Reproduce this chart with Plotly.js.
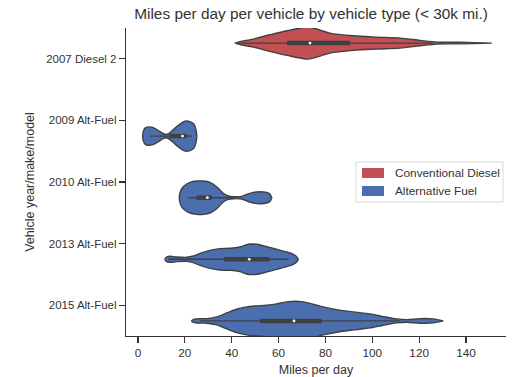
<!DOCTYPE html>
<html>
<head>
<meta charset="utf-8">
<script src="https://cdn.plot.ly/plotly-3.0.1.min.js"></script>
<style>html,body{margin:0;padding:0;background:#fff;}#chart{width:512px;height:377px;}</style>
</head>
<body>
<div id="chart"></div>
<script>
// ---- data ----
const categories = ['2007 Diesel 2', '2009 Alt-Fuel', '2010 Alt-Fuel', '2013 Alt-Fuel', '2015 Alt-Fuel'];
const fuelTypes = ['Conventional Diesel', 'Alternative Fuel', 'Alternative Fuel', 'Alternative Fuel', 'Alternative Fuel'];
const legendLabels = ['Conventional Diesel', 'Alternative Fuel'];
const xTicks = [0, 20, 40, 60, 80, 100, 120, 140];

// violin outlines: miles per day and density half-width (as read)
const miles2007 = [41.4, 49.1, 56.3, 63.6, 72.6, 77.7, 81.9, 91.8, 102.0, 111.8, 120.4, 127.6, 137.4, 151.0];
const dens2007  = [0,    4,    8.3,  12.3, 16,   13,   10,   7.3,  6,     5,     2.7,   1,     0.8,   0];
const miles2009 = [2.0, 2.3, 3.0, 4.4, 6.5, 8.7, 10.8, 12.2, 13.7, 15.8, 17.9, 20.1, 22.2, 23.9, 24.8, 25.1];
const dens2009  = [0,   5,   8,   9.2, 8.5, 5.5, 2.5,  1.7,  3.5,  8,    12,   15,   14.5, 12,   6,    0];
const miles2010 = [17.6, 18.2, 19.3, 22.2, 25.1, 27.9, 30.7, 33.6, 36.4, 38.5, 40.7, 44.3, 46.4, 49.2, 52.1, 54.9, 56.3, 57.1];
const dens2010  = [0,    7,    11,   15.3, 16.7, 16.7, 15.3, 11,   4.3,  1.7,  1,    1.3,  3.3,  5.3,  6,    5.3,  3.7,  0];
const miles2013 = [11.5, 12.2, 13.7, 16.5, 20.8, 23.6, 26.5, 30.7, 35.0, 39.3, 43.5, 46.4, 47.8, 50.7, 54.9, 59.2, 63.5, 66.3, 67.7, 68.4];
const dens2013  = [0,    2.3,  3,    2.3,  2,    3.3,  6,    9,    10.7, 11,   12.3, 14.7, 15.3, 15,   12.7, 10,   7.3,  5,    2.7,  0];
const miles2015 = [22.9, 24.5, 29.3, 33.6, 37.9, 42.1, 46.4, 50.7, 54.9, 59.2, 63.5, 67.0, 70.6, 74.8, 79.1, 84.8, 91.9, 99.0, 104.7, 110.4, 114.7, 120.4, 126.0, 130.3];
const dens2015  = [0,    2,    2.3,  4,    8,    11.7, 14,   15,   15.7, 17,   19,   19.7, 19,   16.7, 14,   11.3, 9,    7,    4.3,   2,     1.3,   2.3,   2,     0];

const violinMiles = [miles2007, miles2009, miles2010, miles2013, miles2015];
const violinDens  = [dens2007, dens2009, dens2010, dens2013, dens2015];

// inner box statistics
const q1        = [63.6, 13.5, 25.0, 36.7, 52.1];
const median    = [73.4, 19.0, 29.6, 47.5, 66.6];
const q3        = [90.5, 21.0, 31.4, 56.0, 78.4];
const whiskerLo = [42.0, 5.0, 21.5, 12.9, 26.5];
const whiskerHi = [126.0, 23.0, 41.0, 64.2, 112.0];

// ---- styling ----
const colors = {'Conventional Diesel': '#c24f53', 'Alternative Fuel': '#4b6fae'};
const dodge = {'Conventional Diesel': -0.255, 'Alternative Fuel': 0.255};
const densScale = 1 / 61.6;   // density units -> category units
const edge = '#404040';
const txt = '#333333';
const FONT = 'Liberation Sans, Arial, sans-serif';

const traces = [];
categories.forEach((cat, i) => {
  const ft = fuelTypes[i];
  const c = i + dodge[ft];
  const m = violinMiles[i], d = violinDens[i];
  const xs = m.concat(m.slice().reverse());
  const ys = d.map(v => c - v * densScale).concat(d.slice().reverse().map(v => c + v * densScale));
  traces.push({
    type: 'scatter', mode: 'lines', x: xs, y: ys, fill: 'toself',
    fillcolor: colors[ft], line: {color: edge, width: 1.4, shape: 'spline', smoothing: 0.8},
    showlegend: false, hoverinfo: 'skip', name: ft
  });
  traces.push({
    type: 'scatter', mode: 'lines', x: [whiskerLo[i], whiskerHi[i]], y: [c, c],
    line: {color: edge, width: 1.4}, showlegend: false, hoverinfo: 'skip'
  });
  traces.push({
    type: 'scatter', mode: 'lines', x: [q1[i], q3[i]], y: [c, c],
    line: {color: edge, width: 4.5}, showlegend: false, hoverinfo: 'skip'
  });
  traces.push({
    type: 'scatter', mode: 'markers', x: [median[i]], y: [c],
    marker: {color: '#ffffff', size: 2.8, line: {width: 0}}, showlegend: false, hoverinfo: 'skip'
  });
});

// manual legend (seaborn-style patches)
const L = 126, T = 28, W = 380, H = 308;
const px = v => (v - L) / W;
const py = v => (T + H - v) / H;
const shapes = [
  {type: 'rect', xref: 'paper', yref: 'paper', x0: px(356), x1: px(503), y0: py(202), y1: py(162),
   line: {color: '#d8d8d8', width: 1}, fillcolor: 'rgba(255,255,255,0.9)', layer: 'above'}
];
const annotations = [];
legendLabels.forEach((lab, k) => {
  const cy = 173 + k * 18;
  shapes.push({type: 'rect', xref: 'paper', yref: 'paper', x0: px(362), x1: px(384), y0: py(cy + 5), y1: py(cy - 5),
    line: {width: 0}, fillcolor: colors[lab], layer: 'above'});
  annotations.push({xref: 'paper', yref: 'paper', x: px(393), y: py(cy), text: lab, showarrow: false,
    xanchor: 'left', yanchor: 'middle', font: {family: FONT, size: 11.8, color: txt}});
});

const layout = {
  width: 512, height: 377,
  margin: {l: L, r: 512 - L - W, t: T, b: 377 - T - H},
  paper_bgcolor: '#ffffff', plot_bgcolor: '#ffffff',
  font: {family: FONT, color: txt},
  title: {text: 'Miles per day per vehicle by vehicle type (< 30k mi.)', xref: 'paper', x: 0.487, xanchor: 'center',
          yref: 'container', y: 1 - 14 / 377, yanchor: 'middle', font: {family: FONT, size: 15.4, color: txt}},
  xaxis: {
    range: [-5.12, 157.06], tickvals: xTicks, ticktext: xTicks.map(String),
    showgrid: false, zeroline: false, showline: true, linecolor: '#333', linewidth: 1.2,
    ticks: 'outside', ticklen: 6, tickwidth: 1.2, tickcolor: '#333',
    tickfont: {family: FONT, size: 11.8, color: txt},
    title: {text: 'Miles per day', font: {family: FONT, size: 12.5, color: txt}, standoff: 6}
  },
  yaxis: {
    range: [4.5, -0.5], tickvals: categories.map((_, i) => i), ticktext: categories,
    showgrid: false, zeroline: false, showline: true, linecolor: '#333', linewidth: 1.2,
    ticks: 'outside', ticklen: 6, tickwidth: 1.2, tickcolor: '#333',
    tickfont: {family: FONT, size: 11.5, color: txt},
    title: {text: 'Vehicle year/make/model', font: {family: FONT, size: 12.5, color: txt}, standoff: 8}
  },
  shapes: shapes, annotations: annotations, showlegend: false
};

Plotly.newPlot('chart', traces, layout, {staticPlot: true, displayModeBar: false});
</script>
</body>
</html>
